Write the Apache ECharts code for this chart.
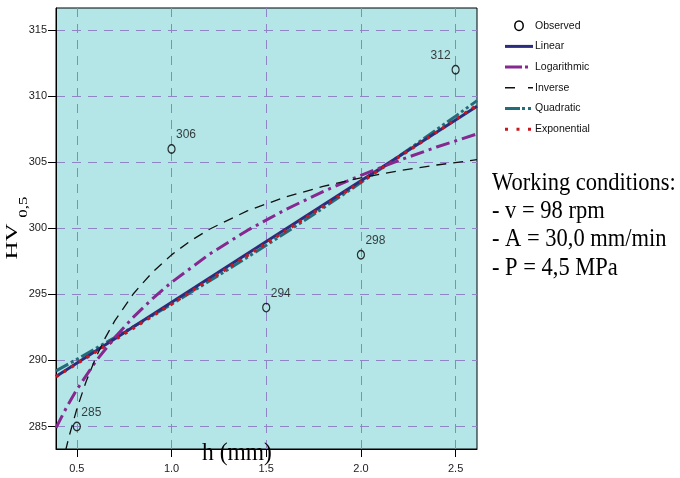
<!DOCTYPE html>
<html>
<head>
<meta charset="utf-8">
<script src="https://cdn.jsdelivr.net/npm/echarts@6/dist/echarts.min.js"></script>
<style>
  html, body { margin: 0; padding: 0; background: #ffffff; }
  #chart { width: 680px; height: 478px; }
</style>
</head>
<body>
<div id="chart"></div>
<script>
// Observed hardness HV0,5 against depth h (mm)
const hObserved = [0.5, 1.0, 1.5, 2.0, 2.5];
const hvObserved = [285, 306, 294, 298, 312];

// Fitted curves, [h, HV] pairs
const linearFit = [[0.39, 288.79], [2.613, 309.24]];
const logarithmicFit = [
  [0.39, 284.90], [0.45, 286.57], [0.5, 287.80], [0.6, 289.93], [0.7, 291.74],
  [0.8, 293.30], [0.9, 294.68], [1.0, 295.91], [1.2, 298.04], [1.4, 299.84],
  [1.6, 301.40], [1.8, 302.78], [2.0, 304.01], [2.2, 305.13], [2.4, 306.15],
  [2.613, 307.14]
];
const inverseFit = [
  [0.44, 283.15], [0.46, 284.30], [0.5, 286.33], [0.55, 288.45], [0.6, 290.21],
  [0.65, 291.71], [0.7, 292.99], [0.8, 295.07], [0.9, 296.69], [1.0, 297.99],
  [1.1, 299.05], [1.2, 299.93], [1.4, 301.32], [1.6, 302.36], [1.8, 303.17],
  [2.0, 303.82], [2.2, 304.35], [2.4, 304.79], [2.613, 305.19]
];
const quadraticFit = [
  [0.39, 289.21], [0.5, 290.09], [0.75, 292.14], [1.0, 294.26], [1.25, 296.45],
  [1.5, 298.71], [1.75, 301.05], [2.0, 303.46], [2.25, 305.94], [2.5, 308.49],
  [2.613, 309.66]
];
const exponentialFit = [
  [0.39, 288.77], [0.7, 291.55], [1.0, 294.27], [1.5, 298.85], [2.0, 303.50],
  [2.3, 306.33], [2.613, 309.31]
];

// Axis ticks
const xTicks = [0.5, 1.0, 1.5, 2.0, 2.5];
const yTicks = [285, 290, 295, 300, 305, 310, 315];

const legendNames = ['Observed', 'Linear', 'Logarithmic', 'Inverse', 'Quadratic', 'Exponential'];
const conditionLines = ['Working conditions:', '- v = 98 rpm', '- A = 30,0 mm/min', '- P = 4,5 MPa'];

// Line appearance per fit (plot and legend dash patterns)
const fitStyles = {
  Linear:      { color: '#2c2c7e', width: 3,   dash: 'solid',              legendDash: null },
  Logarithmic: { color: '#86288f', width: 3,   dash: [14, 5, 3, 5],         legendDash: [17, 3, 3, 10] },
  Inverse:     { color: '#111111', width: 1.3, dash: [10, 7],               legendDash: [10, 13] },
  Quadratic:   { color: '#236d7a', width: 3,   dash: [14, 3, 3, 3, 3, 3],   legendDash: [15, 2, 3, 3, 3, 2] },
  Exponential: { color: '#c8171e', width: 3.2, dash: [3, 6],                legendDash: [3, 8.5] }
};

const fitData = {
  Linear: linearFit,
  Logarithmic: logarithmicFit,
  Inverse: inverseFit,
  Quadratic: quadraticFit,
  Exponential: exponentialFit
};

const drawOrder = ['Quadratic', 'Linear', 'Exponential', 'Logarithmic', 'Inverse'];

const fitSeries = drawOrder.map((name, i) => {
  const s = fitStyles[name];
  return {
    type: 'line',
    name: name,
    data: fitData[name],
    symbol: 'none',
    showSymbol: false,
    smooth: false,
    clip: true,
    silent: true,
    z: 2 + i,
    lineStyle: { color: s.color, width: s.width, type: s.dash, cap: 'butt' }
  };
});

const observedSeries = {
  type: 'scatter',
  name: 'Observed',
  z: 20,
  symbol: 'circle',
  symbolSize: [7, 8.5],
  itemStyle: { color: 'rgba(0,0,0,0)', borderColor: '#000', borderWidth: 1.3 },
  label: {
    show: true,
    position: 'inside',
    align: 'left',
    verticalAlign: 'middle',
    offset: [4.5, -14],
    formatter: p => String(p.value[1]),
    fontFamily: 'Liberation Sans',
    fontSize: 12,
    color: '#111',
    textBorderWidth: 0
  },
  data: hObserved.map((h, i) => ({
    value: [h, hvObserved[i]],
    label: i === hObserved.length - 1 ? { align: 'right', offset: [-5, -14] } : undefined
  }))
};

// Legend drawn as graphics
const legendTop = 25.7, legendStep = 20.7, legendLineX0 = 505, legendLineX1 = 533, legendTextX = 535;
const legendGraphics = [];
legendNames.forEach((name, i) => {
  const y = legendTop + i * legendStep;
  if (name === 'Observed') {
    legendGraphics.push({
      type: 'ellipse',
      shape: { cx: 519, cy: y, rx: 4.2, ry: 4.8 },
      style: { fill: 'none', stroke: '#000', lineWidth: 1.5 }
    });
  } else {
    const s = fitStyles[name];
    legendGraphics.push({
      type: 'line',
      shape: { x1: legendLineX0, y1: y, x2: legendLineX1, y2: y },
      style: { stroke: s.color, lineWidth: name === 'Inverse' ? 1.5 : 3, lineDash: s.legendDash, lineCap: 'butt' }
    });
  }
  legendGraphics.push({
    type: 'text',
    x: legendTextX,
    y: y,
    style: {
      text: name,
      font: '10.5px "Liberation Sans"',
      fill: '#111',
      align: 'left',
      verticalAlign: 'middle'
    }
  });
});

const conditionGraphics = conditionLines.map((t, i) => ({
  type: 'text',
  x: 492,
  y: 183 + i * 28.4,
  scaleX: 0.9,
  style: {
    text: t,
    font: '25px "Liberation Serif"',
    fill: '#000',
    align: 'left',
    verticalAlign: 'middle'
  }
}));

const axisTitleGraphics = [
  {
    type: 'text', x: 237, y: 453, scaleX: 0.94, z: 100,
    style: { text: 'h (mm)', font: '25px "Liberation Serif"', fill: '#000', align: 'center', verticalAlign: 'middle' }
  },
  {
    type: 'text', x: 21, y: 241.5, rotation: Math.PI / 2, scaleY: 0.7,
    style: { text: 'HV', font: '25px "Liberation Serif"', fill: '#000', align: 'center', verticalAlign: 'bottom' }
  },
  {
    type: 'text', x: 29.5, y: 207, rotation: Math.PI / 2, scaleY: 0.7,
    style: { text: '0,5', font: '17px "Liberation Serif"', fill: '#000', align: 'center', verticalAlign: 'bottom' }
  }
];

const gridLineStyle = { color: '#8f85c4', width: 1, type: [9, 7] };

const chart = echarts.init(document.getElementById('chart'), null, { renderer: 'canvas' });
chart.setOption({
  animation: false,
  backgroundColor: '#ffffff',
  textStyle: { fontFamily: 'Liberation Sans' },
  grid: {
    left: 56, right: 203, top: 8, bottom: 29,
    show: true,
    backgroundColor: '#b4e5e7',
    borderColor: '#000',
    borderWidth: 1
  },
  xAxis: {
    type: 'value',
    min: 0.39,
    max: 2.613,
    axisLine: { show: true, onZero: false, lineStyle: { color: '#000', width: 1 } },
    axisTick: { show: true, length: 8, customValues: xTicks, lineStyle: { color: '#000' } },
    axisLabel: {
      customValues: xTicks,
      formatter: v => Number(v).toFixed(1),
      fontSize: 11, color: '#222', margin: 14
    },
    splitLine: { show: true, lineStyle: gridLineStyle }
  },
  yAxis: {
    type: 'value',
    min: 283.3,
    max: 316.67,
    axisLine: { show: true, onZero: false, lineStyle: { color: '#000', width: 1 } },
    axisTick: { show: true, length: 8, customValues: yTicks, lineStyle: { color: '#000' } },
    axisLabel: {
      customValues: yTicks,
      formatter: v => String(v),
      fontSize: 11, color: '#222', margin: 9
    },
    splitLine: { show: true, lineStyle: gridLineStyle }
  },
  series: fitSeries.concat([observedSeries]),
  graphic: legendGraphics.concat(conditionGraphics, axisTitleGraphics)
});
</script>
</body>
</html>
